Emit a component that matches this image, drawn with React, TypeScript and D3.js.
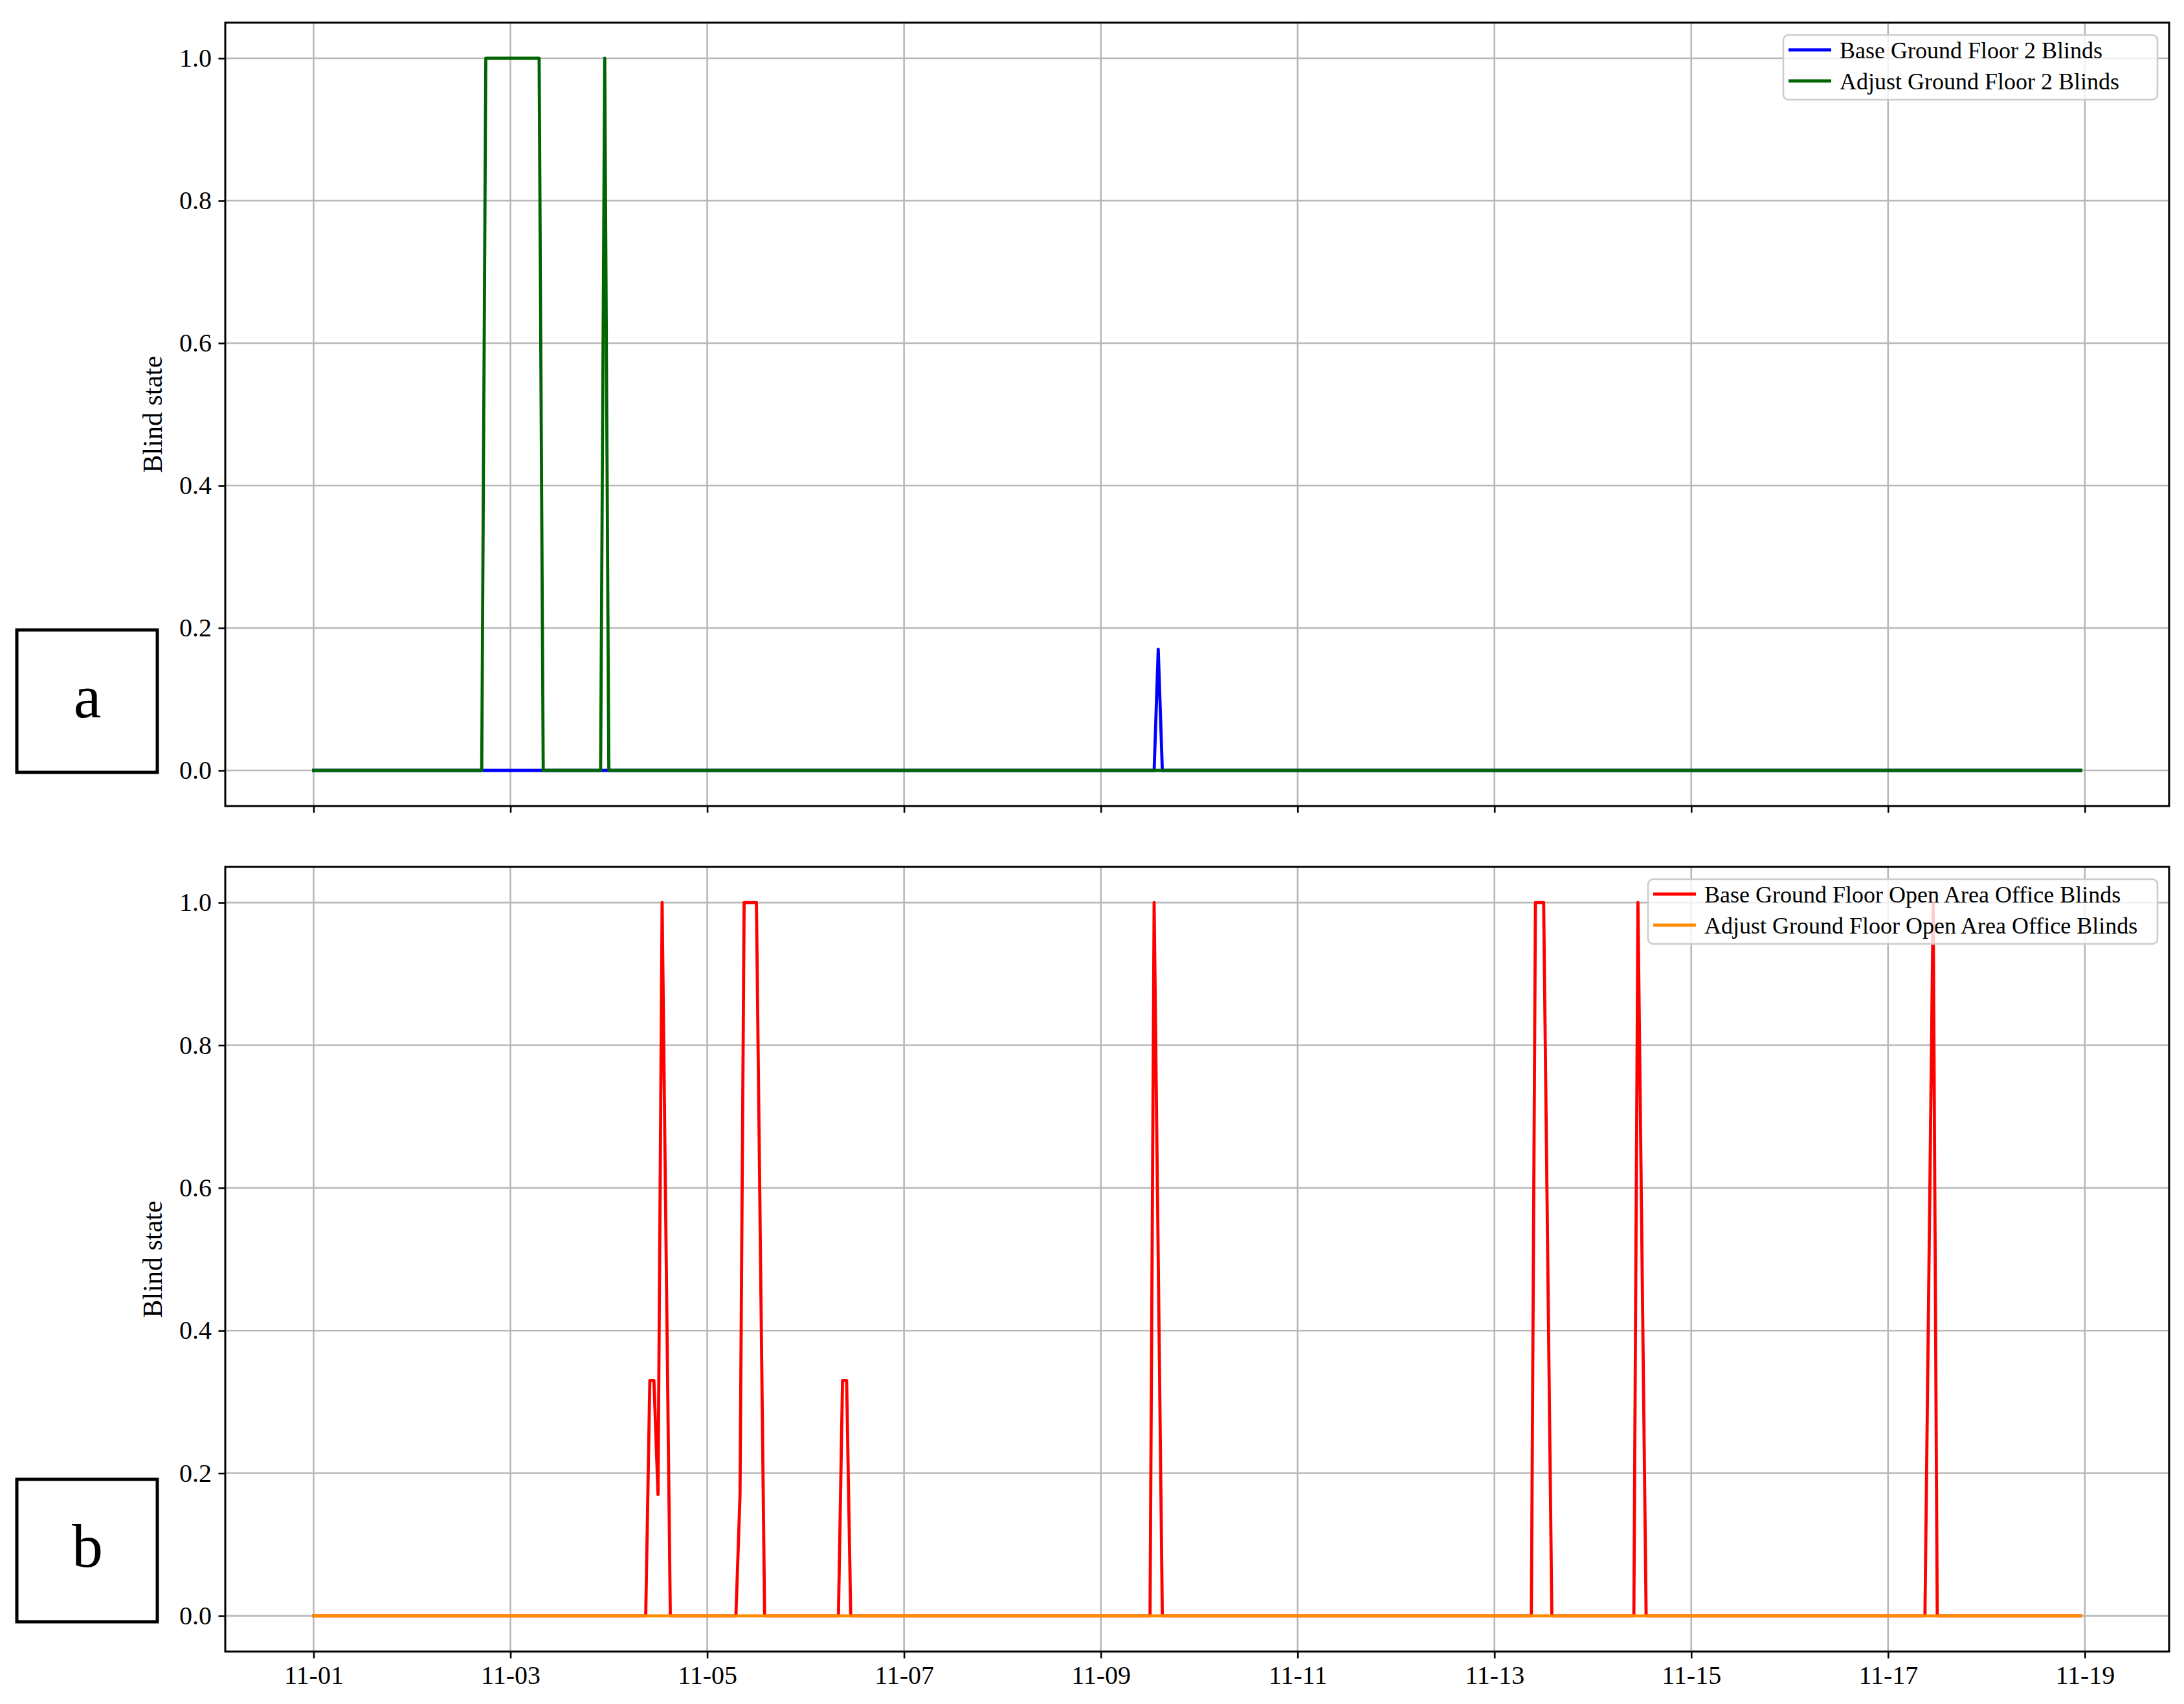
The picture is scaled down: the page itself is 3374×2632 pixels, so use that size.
import React, { useEffect, useRef } from "react";
import * as d3 from "d3";

// hours since 11-01 00:00, blind state
const baseFloor2: [number, number][] = [[0, 0], [205, 0], [206, 0.17], [207, 0], [431, 0]];
const adjustFloor2: [number, number][] = [
  [0, 0], [41, 0], [42, 1], [55, 1], [56, 0], [70, 0], [71, 1], [72, 0], [431, 0],
];
const baseOpenArea: [number, number][] = [
  [0, 0], [81, 0], [82, 0.33], [83, 0.33], [84, 0.17], [85, 1], [87, 0],
  [103, 0], [104, 0.17], [105, 1], [108, 1], [110, 0],
  [128, 0], [129, 0.33], [130, 0.33], [131, 0],
  [204, 0], [205, 1], [207, 0],
  [297, 0], [298, 1], [300, 1], [302, 0],
  [322, 0], [323, 1], [325, 0],
  [393, 0], [395, 1], [396, 0], [431, 0],
];
const adjustOpenArea: [number, number][] = [[0, 0], [431, 0]];

const xTickLabels = ["11-01", "11-03", "11-05", "11-07", "11-09", "11-11", "11-13", "11-15", "11-17", "11-19"];
const yTicks = [0, 0.2, 0.4, 0.6, 0.8, 1.0];

const panels = [
  {
    letter: "a",
    legendLeft: 2755,
    series: [
      { name: "Base Ground Floor 2 Blinds", color: "#0000ff", data: baseFloor2 },
      { name: "Adjust Ground Floor 2 Blinds", color: "#006400", data: adjustFloor2 },
    ],
  },
  {
    letter: "b",
    legendLeft: 2546,
    series: [
      { name: "Base Ground Floor Open Area Office Blinds", color: "#ff0000", data: baseOpenArea },
      { name: "Adjust Ground Floor Open Area Office Blinds", color: "#ff8c00", data: adjustOpenArea },
    ],
  },
];

const W = 3374, H = 2632;
const FONT = "'Liberation Serif', 'Times New Roman', serif";

export default function App() {
  const ref = useRef<SVGSVGElement>(null);

  useEffect(() => {
    const svg = d3.select(ref.current);
    svg.selectAll("*").remove();

    const start = new Date(2023, 10, 1);
    const parse = d3.timeParse("%Y-%m-%d");
    const tickDates = xTickLabels.map(l => parse("2023-" + l) as Date);
    const end = d3.timeHour.offset(start, 431);
    const pad = (end.getTime() - start.getTime()) * 0.05;

    const left = 348, right = 3351;
    const x = d3.scaleTime()
      .domain([new Date(start.getTime() - pad), new Date(end.getTime() + pad)])
      .range([left, right]);

    const tops = [35, 1339], bottoms = [1245, 2551];

    panels.forEach((p, i) => {
      const top = tops[i], bottom = bottoms[i];
      const y = d3.scaleLinear().domain([-0.05, 1.05]).range([bottom, top]);
      const g = svg.append("g");

      // grid
      g.selectAll(".vgrid").data(tickDates).enter().append("line")
        .attr("x1", d => x(d)).attr("x2", d => x(d))
        .attr("y1", top).attr("y2", bottom)
        .attr("stroke", "#b8b8b8").attr("stroke-width", 2.6);
      g.selectAll(".hgrid").data(yTicks).enter().append("line")
        .attr("x1", left).attr("x2", right)
        .attr("y1", d => y(d)).attr("y2", d => y(d))
        .attr("stroke", "#b8b8b8").attr("stroke-width", 2.6);

      // lines
      const line = d3.line<[number, number]>()
        .x(d => x(d3.timeHour.offset(start, d[0])))
        .y(d => y(d[1]));
      p.series.forEach(s => {
        g.append("path").datum(s.data)
          .attr("d", line)
          .attr("fill", "none")
          .attr("stroke", s.color)
          .attr("stroke-width", 4.8)
          .attr("stroke-linejoin", "round")
          .attr("stroke-linecap", "square");
      });

      // axes
      const xAxis = d3.axisBottom(x).tickValues(tickDates)
        .tickFormat((d, k) => (i === 1 ? xTickLabels[k] : ""))
        .tickSize(10.5).tickPadding(11).tickSizeOuter(0);
      const gx = g.append("g").attr("transform", `translate(0,${bottom})`).call(xAxis);
      const yAxis = d3.axisLeft(y).tickValues(yTicks).tickFormat(d3.format(".1f"))
        .tickSize(10.5).tickPadding(10.5).tickSizeOuter(0);
      const gy = g.append("g").attr("transform", `translate(${left},0)`).call(yAxis);
      [gx, gy].forEach(a => {
        a.select(".domain").remove();
        a.selectAll(".tick line").attr("stroke", "#000").attr("stroke-width", 2.6);
        a.selectAll("text").attr("font-family", FONT).attr("font-size", 40).attr("fill", "#000");
      });

      // spines
      g.append("rect")
        .attr("x", left).attr("y", top)
        .attr("width", right - left).attr("height", bottom - top)
        .attr("fill", "none").attr("stroke", "#000").attr("stroke-width", 3);

      // y label
      g.append("text")
        .attr("transform", `translate(250,${(top + bottom) / 2}) rotate(-90)`)
        .attr("text-anchor", "middle")
        .attr("font-family", FONT).attr("font-size", 42)
        .text("Blind state");

      // legend
      const lg = g.append("g");
      const bx = p.legendLeft, boxW = right - 18 - bx;
      lg.append("rect")
        .attr("x", bx).attr("y", top + 19).attr("width", boxW).attr("height", 100)
        .attr("rx", 8).attr("fill", "#fff").attr("fill-opacity", 0.8)
        .attr("stroke", "#cccccc").attr("stroke-width", 2.6);
      p.series.forEach((s, k) => {
        const cy = top + 42 + k * 48;
        lg.append("line").attr("x1", bx + 8).attr("x2", bx + 74)
          .attr("y1", cy).attr("y2", cy)
          .attr("stroke", s.color).attr("stroke-width", 4.8);
        lg.append("text").attr("x", bx + 87).attr("y", cy).attr("dy", "0.35em")
          .attr("font-family", FONT).attr("font-size", 36).text(s.name);
      });

      // panel letter box
      const by = i === 0 ? 973 : 2285;
      svg.append("rect").attr("x", 26).attr("y", by).attr("width", 217).attr("height", 220)
        .attr("fill", "#fff").attr("stroke", "#000").attr("stroke-width", 5);
      svg.append("text").attr("x", 135).attr("y", by + 135)
        .attr("text-anchor", "middle").attr("font-family", FONT).attr("font-size", 96)
        .text(p.letter);
    });
  }, []);

  return (
    <svg ref={ref} width={W} height={H} viewBox={`0 0 ${W} ${H}`}
      style={{ position: "absolute", left: 0, top: 0, background: "#fff" }} />
  );
}
